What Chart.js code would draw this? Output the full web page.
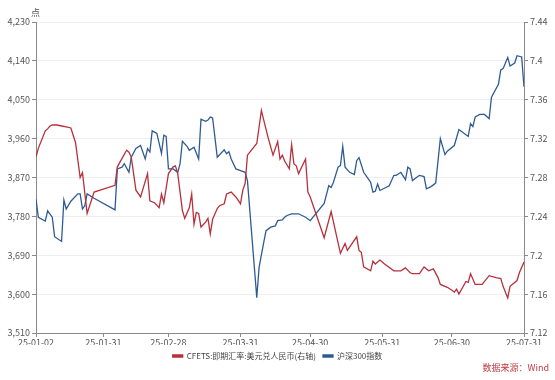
<!DOCTYPE html>
<html>
<head>
<meta charset="utf-8">
<script src="https://cdn.jsdelivr.net/npm/chart.js@4"></script>
<style>
  html,body{margin:0;padding:0;background:#fff;}
  #wrap{position:relative;width:555px;height:380px;}
  #unit{position:absolute;left:31px;top:6px;font:9px "Noto Sans CJK SC",sans-serif;color:#555;}
  #src{position:absolute;right:6px;top:361px;font:9px "Noto Sans CJK SC",sans-serif;color:#c0393f;}
</style>
</head>
<body>
<div id="wrap">
  <canvas id="c" width="555" height="380"></canvas>
  <div id="unit">点</div>
  <div id="src">数据来源：Wind</div>
</div>
<script>
const tickDates = ['01-02','01-31','02-28','03-31','04-30','05-31','06-30','07-31'];

const cfetsDates = ['01-02','01-03','01-06','01-07','01-08','01-09','01-11','01-13','01-15','01-17','01-19','01-21','01-22','01-24','01-27',
'02-05','02-06','02-10','02-11','02-12','02-14','02-16','02-19','02-20','02-22','02-24','02-25','02-26','02-28',
'03-02','03-03','03-04','03-06','03-07','03-09','03-10','03-11','03-12','03-13','03-14','03-16','03-17','03-18','03-19','03-21','03-22','03-24','03-25','03-27','03-29','03-31',
'04-01','04-02','04-03','04-07','04-09','04-10','04-12','04-14','04-16','04-17','04-18','04-19','04-21','04-22','04-23','04-24','04-25','04-28','04-29','04-30',
'05-06','05-09','05-13','05-15','05-16','05-20','05-21','05-22','05-23','05-26','05-27','05-28','05-30',
'06-01','06-05','06-08','06-10','06-12','06-13','06-16','06-18','06-20','06-22','06-24','06-25','06-28','06-30',
'07-01','07-02','07-03','07-06','07-07','07-08','07-10','07-13','07-16','07-19','07-21','07-22','07-24','07-25','07-28','07-29','07-31'];
const cfetsValues = [7.301,7.310,7.328,7.330,7.333,7.334,7.334,7.333,7.332,7.331,7.316,7.280,7.285,7.243,7.265,
7.272,7.291,7.308,7.306,7.301,7.267,7.260,7.284,7.256,7.254,7.249,7.263,7.254,7.284,
7.291,7.292,7.284,7.246,7.238,7.249,7.263,7.232,7.244,7.243,7.229,7.234,7.238,7.222,7.237,7.248,7.251,7.253,7.263,7.265,7.260,7.253,
7.267,7.274,7.303,7.315,7.349,7.339,7.320,7.303,7.317,7.299,7.303,7.297,7.289,7.314,7.294,7.292,7.284,7.299,7.265,7.260,
7.218,7.245,7.202,7.212,7.205,7.219,7.205,7.203,7.188,7.184,7.194,7.191,7.195,
7.191,7.184,7.184,7.187,7.182,7.181,7.181,7.188,7.184,7.186,7.177,7.170,7.167,7.164,
7.162,7.165,7.160,7.173,7.172,7.181,7.170,7.170,7.179,7.177,7.176,7.168,7.156,7.168,7.174,7.182,7.193];

const csiDates = ['01-02','01-03','01-06','01-07','01-09','01-10','01-13','01-14','01-15','01-17','01-20','01-21','01-22','01-23','01-24','01-27',
'02-05','02-06','02-08','02-09','02-11','02-12','02-14','02-16','02-18','02-19','02-20','02-21','02-22','02-23','02-25','02-26','02-27','02-28',
'03-02','03-04','03-05','03-06','03-08','03-09','03-11','03-13','03-14','03-16','03-17','03-18','03-19','03-21','03-24','03-25','03-26','03-27','03-29','03-31',
'04-02','04-03','04-07','04-08','04-10','04-11','04-13','04-15','04-16','04-18','04-19','04-20','04-22','04-25','04-28','04-30',
'05-06','05-08','05-09','05-10','05-12','05-13','05-14','05-15','05-17','05-19','05-20','05-21','05-23','05-25','05-26','05-27','05-28','05-29','05-30',
'06-03','06-05','06-06','06-08','06-10','06-11','06-12','06-13','06-15','06-16','06-18','06-19','06-21','06-23','06-25','06-27','06-28',
'07-01','07-03','07-05','07-07','07-08','07-09','07-10','07-12','07-14','07-16','07-17','07-20','07-21','07-22','07-24','07-25','07-27','07-28','07-30','07-31'];
const csiValues = [3820,3778,3769,3793,3778,3733,3722,3818,3797,3815,3832,3832,3797,3805,3832,3822,
3795,3890,3894,3902,3882,3917,3937,3944,3913,3937,3929,3978,3975,3972,3926,3968,3965,3890,
3890,3882,3902,3954,3942,3933,3940,3913,4005,4000,4003,4010,4008,3917,3934,3925,3930,3913,3890,3886,
3882,3862,3592,3662,3720,3747,3755,3758,3770,3772,3778,3782,3786,3786,3778,3770,
3810,3851,3847,3859,3894,3898,3942,3894,3882,3877,3909,3916,3882,3867,3859,3836,3838,3855,3840,
3851,3875,3875,3882,3865,3894,3890,3863,3871,3875,3872,3844,3849,3857,3960,3923,3931,
3944,3981,3973,3965,3995,3988,4010,4016,4016,4006,4056,4086,4119,4122,4148,4128,4135,4152,4149,4080];

const seriesNames = ['CFETS:即期汇率:美元兑人民币(右轴)', '沪深300指数'];

function dayOf(md){
  const p = md.split('-').map(Number);
  return Math.round((Date.UTC(2025, p[0]-1, p[1]) - Date.UTC(2025, 0, 2)) / 864e5);
}
function pts(dates, vals){ return dates.map((d,i)=>({x: dayOf(d), y: vals[i]})); }

const RED = '#b8303c', BLUE = '#2f5b94';
const FONT = {family: '"Noto Sans CJK SC", sans-serif', size: 9};
const AX = '#8a8a8a';

new Chart(document.getElementById('c'), {
  type: 'line',
  data: {
    datasets: [
      {label: seriesNames[0], data: pts(cfetsDates, cfetsValues), yAxisID: 'y1',
       borderColor: RED, backgroundColor: RED, borderWidth: 1.3, pointRadius: 0, tension: 0},
      {label: seriesNames[1], data: pts(csiDates, csiValues), yAxisID: 'y',
       borderColor: BLUE, backgroundColor: BLUE, borderWidth: 1.3, pointRadius: 0, tension: 0}
    ]
  },
  options: {
    responsive: false,
    animation: false,
    layout: {padding: {top: 22, left: 0, right: 0, bottom: 10}},
    plugins: {
      tooltip: {enabled: false},
      legend: {
        position: 'bottom',
        labels: {font: {family: FONT.family, size: 8}, color: '#444', boxWidth: 10, boxHeight: 2, padding: 7}
      }
    },
    scales: {
      x: {
        type: 'linear', min: 0, max: 210,
        afterBuildTicks: a => { a.ticks = tickDates.map(d => ({value: dayOf(d)})); },
        afterFit: s => { s.height = 12; },
        ticks: {font: FONT, color: '#555', autoSkip: false, maxRotation: 0, padding: 0,
          callback: v => { const d = tickDates.find(t => dayOf(t) === v); return d ? '25-' + d : ''; }},
        grid: {display: true, drawOnChartArea: false, drawTicks: true, tickLength: 4, tickColor: AX},
        border: {display: true, color: AX}
      },
      y: {
        position: 'left', min: 3510, max: 4230,
        afterFit: s => { s.width = 36; },
        ticks: {stepSize: 90, font: FONT, color: '#555', padding: 2,
          callback: v => Number(v).toLocaleString('en-US')},
        grid: {color: '#efefef', drawTicks: true, tickLength: 4, tickColor: AX},
        border: {display: true, color: AX}
      },
      y1: {
        position: 'right', min: 7.12, max: 7.44,
        afterFit: s => { s.width = 31; },
        ticks: {stepSize: 0.04, font: FONT, color: '#555', padding: 2,
          callback: v => String(Number(Number(v).toFixed(2)))},
        grid: {drawOnChartArea: false, drawTicks: true, tickLength: 4, tickColor: AX},
        border: {display: true, color: AX}
      }
    }
  }
});
</script>
</body>
</html>
